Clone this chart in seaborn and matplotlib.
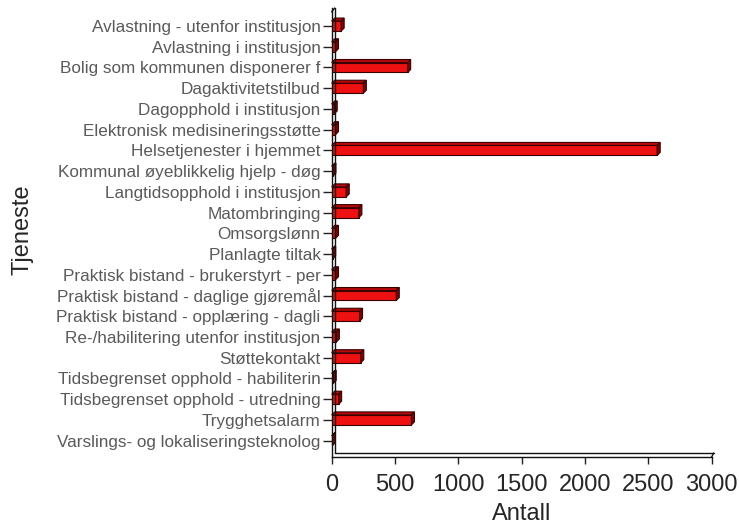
import matplotlib
matplotlib.use("Agg")
import matplotlib.pyplot as plt
import matplotlib.transforms as mtransforms
from matplotlib.patches import Polygon
from matplotlib.lines import Line2D
import seaborn as sns
import pandas as pd

tjeneste = [
    "Avlastning - utenfor institusjon",
    "Avlastning i institusjon",
    "Bolig som kommunen disponerer f",
    "Dagaktivitetstilbud",
    "Dagopphold i institusjon",
    "Elektronisk medisineringsstøtte",
    "Helsetjenester i hjemmet",
    "Kommunal øyeblikkelig hjelp - døg",
    "Langtidsopphold i institusjon",
    "Matombringing",
    "Omsorgslønn",
    "Planlagte tiltak",
    "Praktisk bistand - brukerstyrt - per",
    "Praktisk bistand - daglige gjøremål",
    "Praktisk bistand - opplæring - dagli",
    "Re-/habilitering utenfor institusjon",
    "Støttekontakt",
    "Tidsbegrenset opphold - habiliterin",
    "Tidsbegrenset opphold - utredning",
    "Trygghetsalarm",
    "Varslings- og lokaliseringsteknolog",
]
antall = [75, 30, 600, 250, 20, 30, 2570, 10, 115, 215, 30,
          8, 30, 510, 220, 37, 230, 12, 55, 630, 6]

x_ticks = [0, 500, 1000, 1500, 2000, 2500, 3000]

df = pd.DataFrame({"Tjeneste": tjeneste, "Antall": antall})

sns.set_style("white")
plt.rcParams["font.family"] = ["Liberation Sans", "DejaVu Sans"]

fig = plt.figure(figsize=(7.39, 5.26), dpi=100)
ax = fig.add_axes([0.4488, 0.1312, 0.5142, 0.8536])

sns.barplot(data=df, x="Antall", y="Tjeneste", orient="h", color="#ee1111",
            saturation=1, width=0.48, edgecolor="#3a0000", linewidth=0.8, ax=ax)

ax.set_xlim(0, 3000)
ax.set_ylim(20.79, -0.87)
ax.set_xticks(x_ticks)
ax.set_xticklabels([str(v) for v in x_ticks], fontsize=17)
ax.tick_params(axis="x", length=5, width=1, color="#222222", pad=7, bottom=True)
ax.tick_params(axis="y", length=6.5, width=1, color="#222222", pad=1.5, left=True,
               labelsize=12.3, labelcolor="#5a5a5a")

for s in ["top", "right"]:
    ax.spines[s].set_visible(False)
for s in ["left", "bottom"]:
    ax.spines[s].set_color("#111111")
    ax.spines[s].set_linewidth(1.0)

# fake 3d: top face and side face for every bar, offset a few pixels
dx, dy = 3, 3
ident = mtransforms.IdentityTransform()
for p in list(ax.patches):
    if p.get_width() <= 0:
        continue
    x0, y0 = ax.transData.transform((p.get_x(), p.get_y()))
    x1, y1 = ax.transData.transform((p.get_x() + p.get_width(), p.get_y() + p.get_height()))
    yt, yb = max(y0, y1), min(y0, y1)
    top = Polygon([(x0, yt), (x1, yt), (x1 + dx, yt + dy), (x0 + dx, yt + dy)],
                  closed=True, transform=ident,
                  facecolor="#b80808", edgecolor="#3a0000", linewidth=0.8, clip_on=False)
    side = Polygon([(x1, yb), (x1, yt), (x1 + dx, yt + dy), (x1 + dx, yb + dy)],
                   closed=True, transform=ident,
                   facecolor="#7a0505", edgecolor="#3a0000", linewidth=0.8, clip_on=False)
    ax.add_artist(top)
    ax.add_artist(side)

# back wall and floor lines
ax_l, ax_b = ax.transAxes.transform((0, 0))
ax_r, ax_t = ax.transAxes.transform((1, 1))
for xs, ys in [([ax_l + 3, ax_r + 2], [ax_b + 4, ax_b + 4]),
               ([ax_l + 3, ax_l + 3], [ax_b + 4, ax_t]),
               ([ax_r, ax_r + 2], [ax_b, ax_b + 4]),
               ([ax_l, ax_l + 3], [ax_t - 4, ax_t])]:
    ax.add_artist(Line2D(xs, ys, transform=ident, color="#111111", linewidth=1.0, clip_on=False))

ax.set_xlabel("Antall", fontsize=17, labelpad=5)
ax.set_ylabel("Tjeneste", fontsize=17)
ax.yaxis.set_label_coords(-0.784, 0.5056)

fig.savefig("out.png", dpi=100)
